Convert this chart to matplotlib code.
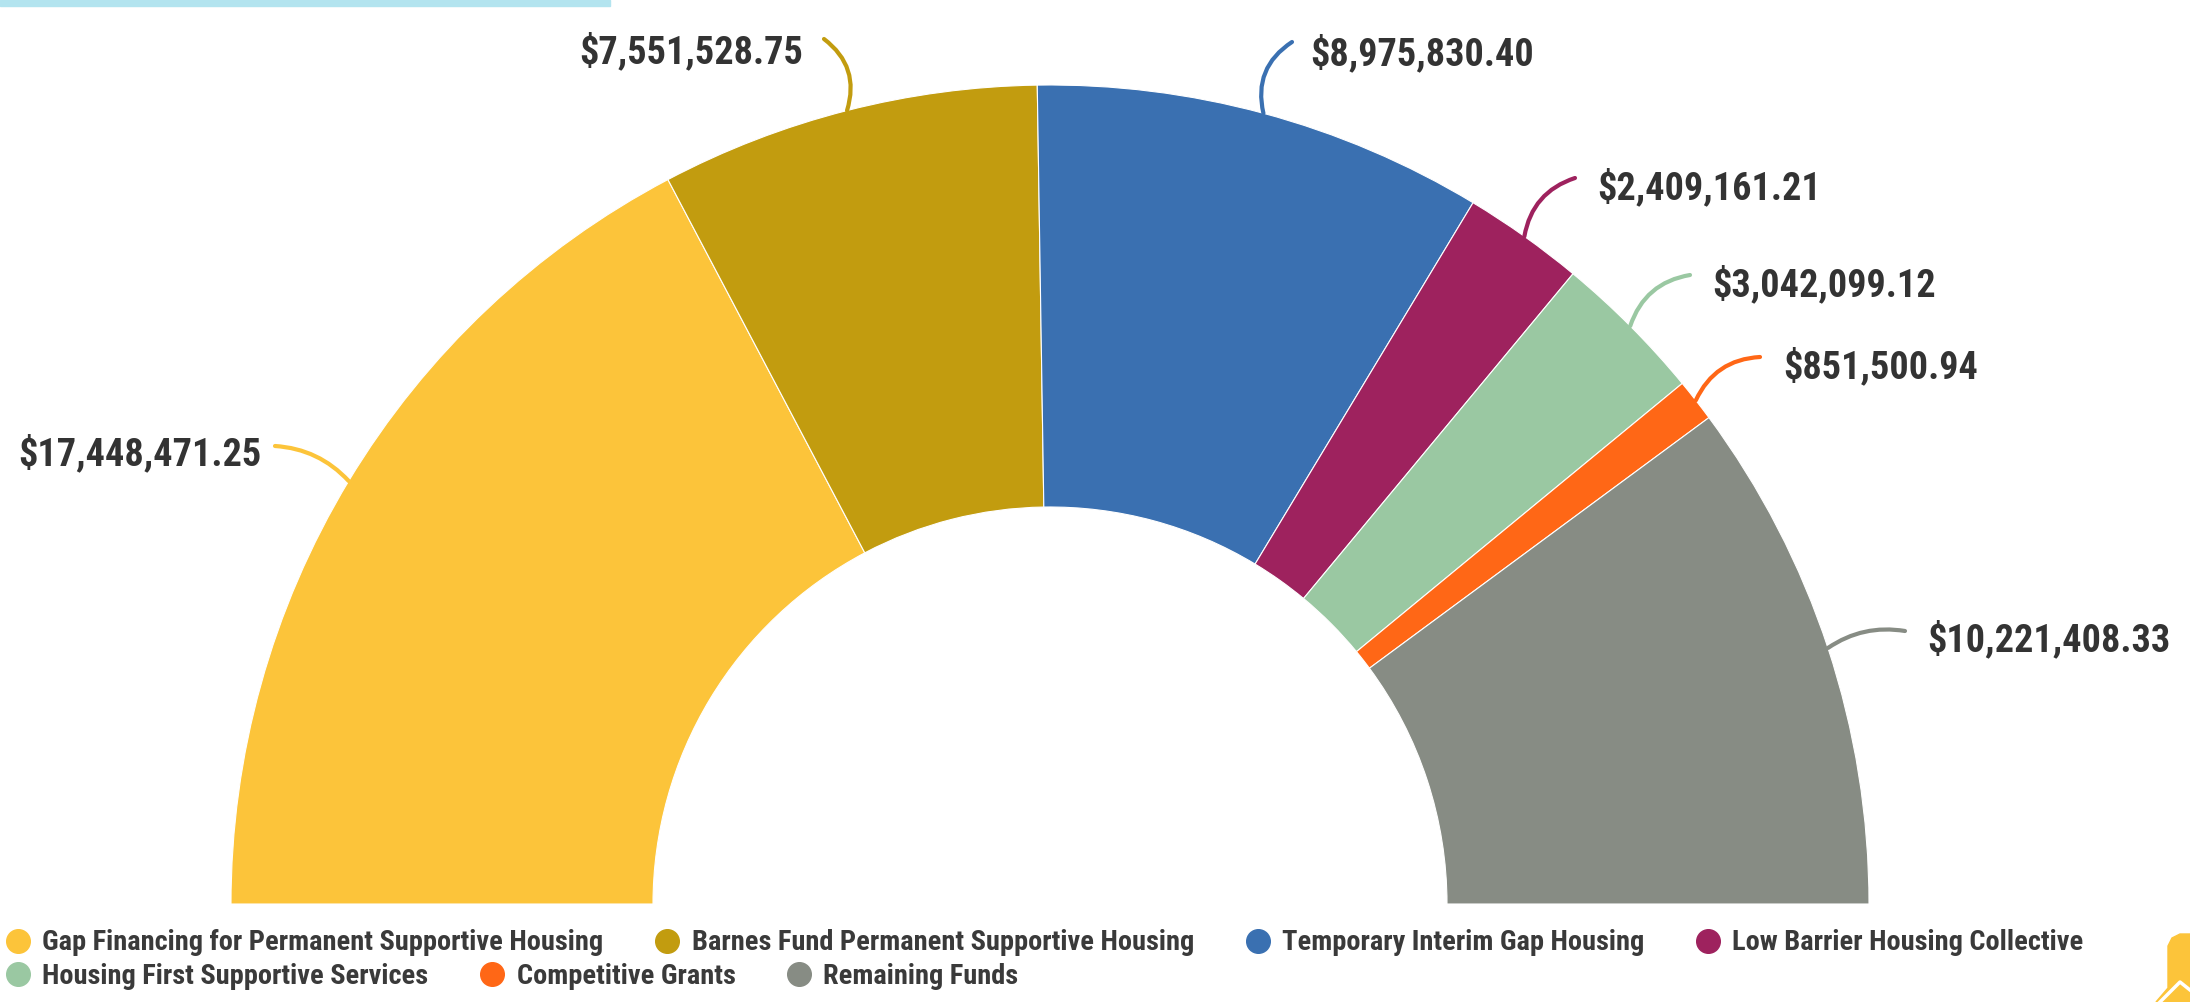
import matplotlib
matplotlib.use('Agg')
import matplotlib.pyplot as plt
from matplotlib import font_manager
from matplotlib.lines import Line2D
from matplotlib.patches import Rectangle, Polygon
import numpy as np

categories = ['Gap Financing for Permanent Supportive Housing',
              'Barnes Fund Permanent Supportive Housing',
              'Temporary Interim Gap Housing',
              'Low Barrier Housing Collective',
              'Housing First Supportive Services',
              'Competitive Grants',
              'Remaining Funds']
amounts = [17448471.25, 7551528.75, 8975830.40, 2409161.21,
           3042099.12, 851500.94, 10221408.33]
colors = ['#FCC43A', '#C29C0F', '#3A70B1', '#9E225E',
          '#9AC8A2', '#FF6716', '#878C84']


def pick_font(names):
    for n in names:
        try:
            font_manager.findfont(font_manager.FontProperties(family=n),
                                  fallback_to_default=False)
            return n
        except ValueError:
            pass
    return 'DejaVu Sans'


FONT = pick_font(['Liberation Sans Narrow', 'Roboto Condensed', 'Roboto'])
TXT = '#333333'

fig = plt.figure(figsize=(21.9, 10.02), dpi=100)
ax = fig.add_axes([0, 0, 1, 1])

# half donut: the hidden last wedge takes the lower half
cx, cy, R, W = 1050, 904, 819, 422
wedges, _ = ax.pie(amounts + [sum(amounts)], colors=colors + ['white'],
                   startangle=180, counterclock=True, radius=R, center=(cx, cy),
                   wedgeprops=dict(width=W, edgecolor='white', linewidth=0.8))
wedges[-1].set_visible(False)
ax.set_xlim(0, 2190)
ax.set_ylim(1002, 0)
ax.set_aspect('equal')
ax.axis('off')

# value labels with curved leader lines
text_pos = [(261, 465, 'right'), (803, 63, 'right'), (1310, 65, 'left'),
            (1597, 199, 'left'), (1712, 296, 'left'), (1783, 378, 'left'),
            (1927, 651, 'left')]
line_start = [(275, 446), (824, 39), (1292, 42), (1575, 178),
              (1690, 275), (1760, 357), (1905, 631)]
rads = [-0.2, -0.35, 0.35, 0.3, 0.3, 0.3, 0.2]

for i, w in enumerate(wedges[:-1]):
    mid = np.deg2rad((w.theta1 + w.theta2) / 2)
    px, py = cx + R * np.cos(mid), cy + R * np.sin(mid)
    ax.annotate('', xy=(px, py), xytext=line_start[i],
                arrowprops=dict(arrowstyle='-', color=colors[i], lw=3,
                                shrinkA=0, shrinkB=0,
                                connectionstyle=f'arc3,rad={rads[i]}'))
    tx, ty, ha = text_pos[i]
    ax.text(tx, ty, f'${amounts[i]:,.2f}', ha=ha, va='baseline',
            fontsize=27.5, fontweight='bold', family=FONT, color=TXT)

# legend in two rows
handles = [Line2D([], [], ls='none', marker='o', ms=17, mfc=c, mec=c)
           for c in colors]
leg_kw = dict(loc='center left', bbox_transform=ax.transData, frameon=False,
              handlelength=1.0, handletextpad=0.35, columnspacing=1.75,
              borderpad=0, borderaxespad=0, labelcolor='#3a3a3a',
              prop=dict(family=FONT, weight='bold', size=20.45))
leg1 = ax.legend(handles[:4], categories[:4], ncol=4,
                 bbox_to_anchor=(4, 943), **leg_kw)
ax.add_artist(leg1)
ax.legend(handles[4:], categories[4:], ncol=3,
          bbox_to_anchor=(4, 976), **leg_kw)

# decorations: top accent bar and cropped logo
ax.add_patch(Rectangle((0, 0), 610, 6, color='#b3e4ef', clip_on=False))
ax.add_patch(Polygon([(2168, 946), (2172, 938), (2180, 934), (2190, 934),
                      (2190, 1002), (2156, 1002), (2168, 988)],
                     closed=True, color='#FCC43A', clip_on=False))
ax.plot([2160, 2180, 2190], [1002, 982, 990], color='white', lw=2.5)

fig.savefig('out.png', dpi=100, facecolor='white')
